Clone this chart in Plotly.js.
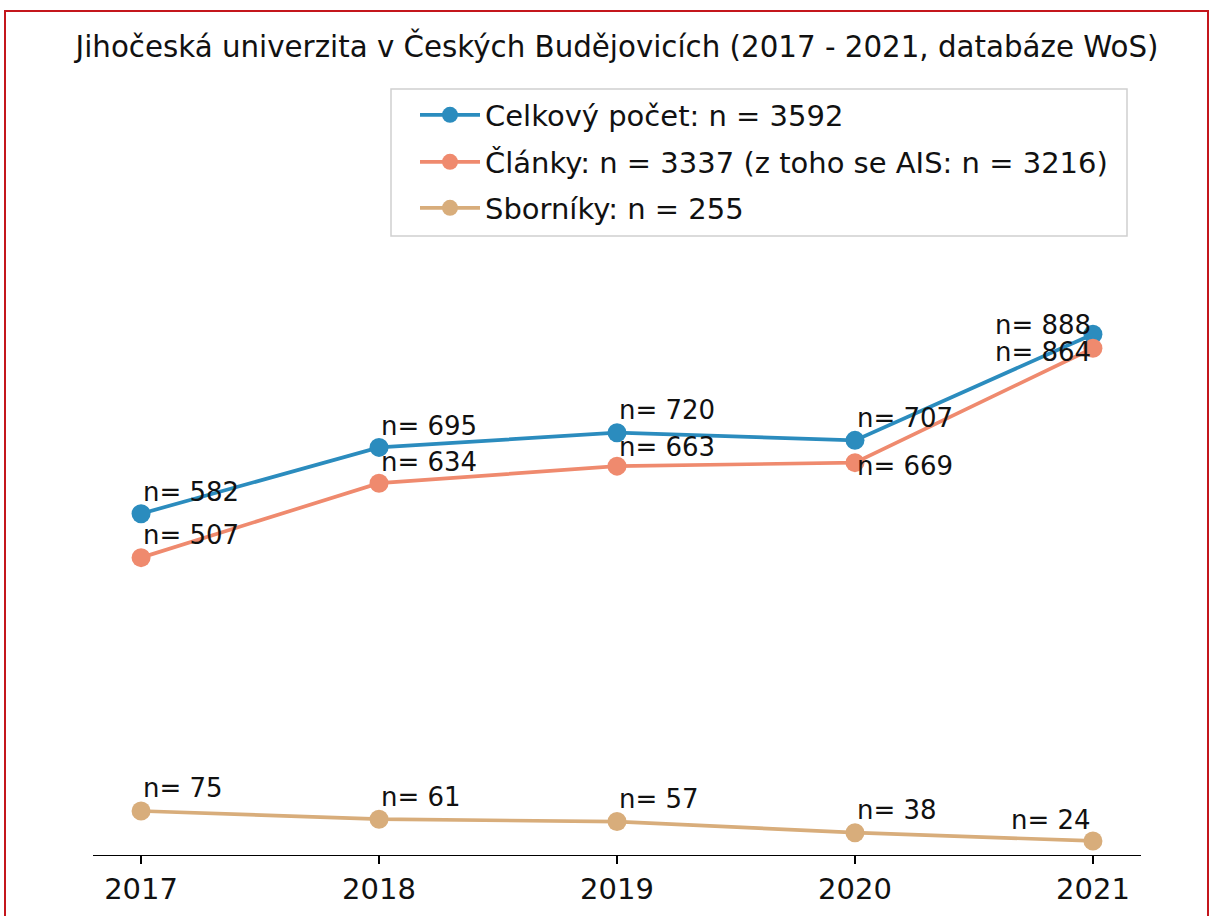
<!DOCTYPE html>
<html>
<head>
<meta charset="utf-8">
<script src="https://cdn.plot.ly/plotly-3.0.1.min.js"></script>
<style>
  html, body { margin: 0; padding: 0; background: #fff; }
  #wrap { position: relative; width: 1212px; height: 916px; overflow: hidden; }
  #chart { position: absolute; left: 0; top: 0; width: 1212px; height: 916px; }
  #frame { position: absolute; left: 4px; top: 10px; width: 1205px; height: 920px;
           border: 2px solid #c4161c; pointer-events: none; box-sizing: border-box; }
</style>
</head>
<body>
<div id="wrap"><div id="chart"></div><div id="frame"></div></div>
<script>
// ---- data ----
const years = [2017, 2018, 2019, 2020, 2021];
const yearLabels = ["2017", "2018", "2019", "2020", "2021"];
const celkem = [582, 695, 720, 707, 888];
const clanky = [507, 634, 663, 669, 864];
const sborniky = [75, 61, 57, 38, 24];
const seriesNames = [
  "Celkový počet: n = 3592",
  "Články: n = 3337 (z toho se AIS: n = 3216)",
  "Sborníky: n = 255"
];
const chartTitle = "Jihočeská univerzita v Českých Budějovicích (2017 - 2021, databáze WoS)";

// ---- styles ----
const colors = ["#2b8cbe", "#ef8a6e", "#d8ad7b"];
const FONT = "DejaVu Sans, Verdana, sans-serif";
const series = [celkem, clanky, sborniky];

// plot area in px (for converting layout positions)
const PL = 93, PR = 1141, PT = 80, PB = 855;
const px2x = p => (p - PL) / (PR - PL);
const py2y = p => (PB - p) / (PB - PT);

// label placement per series & point: [xanchor, yshift]
const labelPos = [
  [["left", 22], ["left", 21], ["left", 23], ["left", 22], ["right", 9]],
  [["left", 23], ["left", 21], ["left", 19], ["left", -3], ["right", -4]],
  [["left", 23], ["left", 22], ["left", 23], ["left", 23], ["right", 21]]
];

const traces = series.map((vals, i) => ({
  type: "scatter",
  mode: "lines+markers",
  x: years,
  y: vals,
  name: seriesNames[i],
  legend: i === 0 ? "legend" : "legend" + (i + 1),
  line: { color: colors[i], width: 3.7 },
  marker: { color: colors[i], size: 19 },
  hoverinfo: "skip"
}));

const annotations = [];
series.forEach((vals, i) => {
  vals.forEach((v, j) => {
    annotations.push({
      x: years[j], y: v, xref: "x", yref: "y",
      text: "n= " + v,
      showarrow: false,
      xanchor: labelPos[i][j][0],
      yanchor: "middle",
      yshift: labelPos[i][j][1],
      font: { family: FONT, size: 26, color: "#111" }
    });
  });
});

const legendCommon = {
  xref: "paper", yref: "paper",
  x: px2x(415), xanchor: "left", yanchor: "middle",
  bgcolor: "rgba(0,0,0,0)", borderwidth: 0,
  font: { family: FONT, size: 29, color: "#111" },
  itemwidth: 60
};

const layout = {
  width: 1212, height: 916,
  paper_bgcolor: "#fff", plot_bgcolor: "#fff",
  margin: { l: PL, r: 1212 - PR, t: PT, b: 916 - PB, autoexpand: false },
  title: {
    text: chartTitle,
    font: { family: FONT, size: 29.3, color: "#111" },
    x: 0.5, xref: "paper", xanchor: "center",
    y: 1 - 47 / 916, yref: "container", yanchor: "middle"
  },
  xaxis: {
    range: [2016.798, 2021.202],
    tickvals: years, ticktext: yearLabels,
    showgrid: false, zeroline: false,
    showline: true, linecolor: "#000", linewidth: 1.3,
    ticks: "outside", ticklen: 8, tickwidth: 1.3, tickcolor: "#000",
    tickfont: { family: FONT, size: 29, color: "#111" },
    automargin: false,
    fixedrange: true
  },
  yaxis: { range: [0, 1321.4], visible: false, fixedrange: true },
  showlegend: true,
  legend: Object.assign({}, legendCommon, { y: py2y(115) }),
  legend2: Object.assign({}, legendCommon, { y: py2y(162) }),
  legend3: Object.assign({}, legendCommon, { y: py2y(208) }),
  shapes: [{
    type: "rect", xref: "paper", yref: "paper", layer: "above",
    x0: px2x(391), x1: px2x(1127),
    y0: py2y(236), y1: py2y(89),
    line: { color: "#d0d0d0", width: 1.5 }, fillcolor: "rgba(255,255,255,0.85)"
  }],
  annotations: annotations
};

Plotly.newPlot("chart", traces, layout, { displayModeBar: false, staticPlot: true });
</script>
</body>
</html>
